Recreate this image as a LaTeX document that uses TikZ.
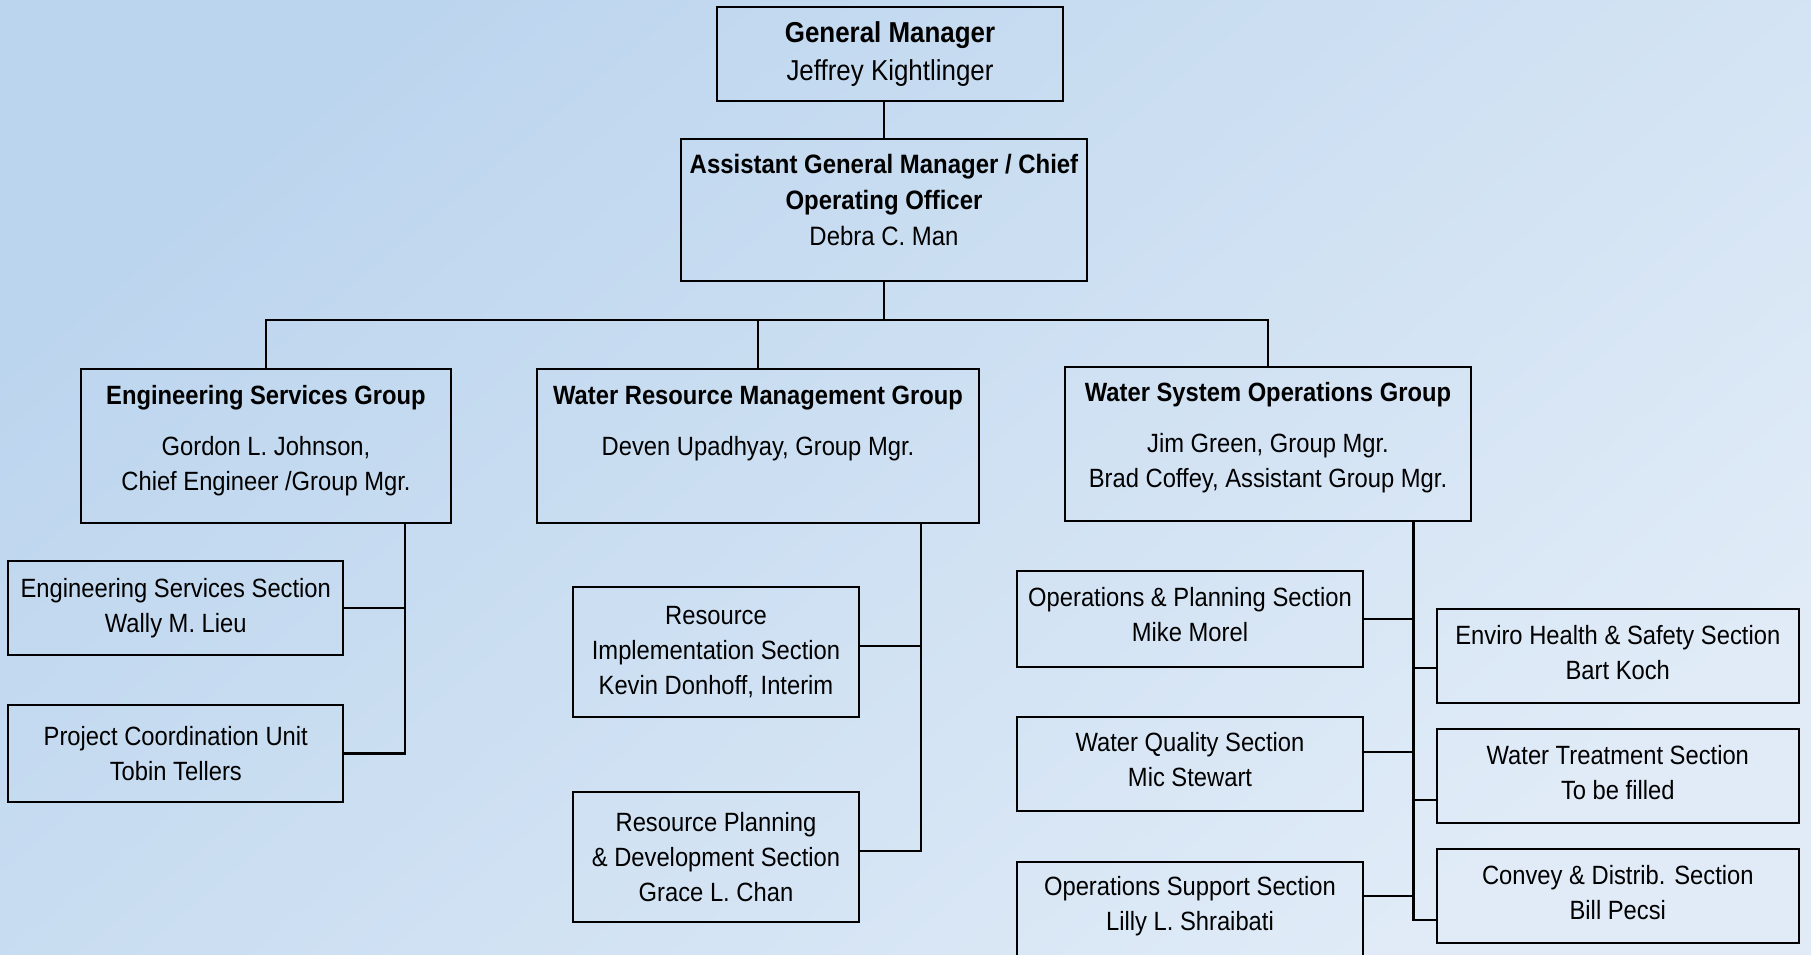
\documentclass[tikz,border=0pt]{standalone}
\usepackage{fontspec}
\setmainfont{Liberation Sans}[FakeStretch=0.9]
\usepackage{tikz}
\usetikzlibrary{shapes, positioning}
\definecolor{paleblue}{RGB}{188,213,238}
\definecolor{mistblue}{RGB}{224,235,247}
\newcommand{\liftby}[1]{\\[#1]\mbox{}}
\tikzstyle{box} = [draw, line width=1pt, rectangle, align=center, inner sep=2pt, font=\fontsize{13.2}{17.5}\selectfont]
\tikzstyle{chief} = [box, font=\fontsize{14.4}{18.9}\selectfont]
\tikzstyle{deputy} = [box, font=\fontsize{13.3}{18}\selectfont]
\tikzstyle{group} = [box, minimum height=77pt]
\tikzstyle{section} = [box, minimum height=47pt]
\tikzstyle{joint} = [coordinate]
\tikzstyle{link} = [line width=0.9pt]
\tikzstyle{trunk} = [line width=1.2pt]

\begin{document}
\begin{tikzpicture}[x=0.5pt, y=-0.5pt]
  \useasboundingbox (0,0) rectangle (1811,954);
  \clip (0,0) rectangle (1811,954);
  \shade [top color=paleblue, bottom color=mistblue, shading angle=40] (0,0) rectangle (1811,954);

  % top of the chart
  \node [chief, minimum width=173.2pt, minimum height=47pt] (gm) at (890,53.7)
    {\textbf{General Manager}\\ Jeffrey Kightlinger\liftby{-16.5pt}};
  \node [deputy, minimum width=203.2pt, minimum height=71.2pt] (agm) at (884,210)
    {\textbf{Assistant General Manager / Chief}\\ \textbf{Operating Officer}\\ Debra C. Man\liftby{-8pt}};
  \node [joint] (bus) at (884,320) {};

  % groups
  \node [group, minimum width=185.3pt] (esg) at (266,446.3)
    {\textbf{Engineering Services Group}\\[8pt] Gordon L. Johnson,\\ Chief Engineer /Group Mgr.\liftby{-8.7pt}};
  \node [group, minimum width=221.3pt] (wrmg) at (758,446.3)
    {\textbf{Water Resource Management Group}\\[8pt] Deven Upadhyay, Group Mgr.\liftby{0pt}\liftby{-9.5pt}};
  \node [group, minimum width=203.3pt] (wsog) at (1268,443.7)
    {\textbf{Water System Operations Group}\\[8pt] Jim Green, Group Mgr.\\ Brad Coffey, Assistant Group Mgr.\liftby{-8.7pt}};

  % engineering sections
  \node [section, minimum width=167.5pt] (ess) at (175.8,608.2)
    {Engineering Services Section\\ Wally M. Lieu};
  \node [section, minimum width=167.5pt, minimum height=48.5pt, below of=ess, node distance=72.65pt] (pcu)
    {Project Coordination Unit\\ Tobin Tellers};

  % water resource sections
  \node [section, minimum width=143.2pt, minimum height=65pt] (ris) at (716,652.3)
    {Resource\\ Implementation Section\\ Kevin Donhoff, Interim};
  \node [section, minimum width=143.2pt, minimum height=65pt, below of=ris, node distance=102.2pt] (rpds)
    {Resource Planning\\ \& Development Section\\ Grace L. Chan};

  % operations sections
  \node [section, minimum width=173.3pt, minimum height=48.3pt] (ops) at (1190,619)
    {Operations \& Planning Section\\ Mike Morel\liftby{-12.9pt}};
  \node [section, minimum width=173.3pt, minimum height=46.9pt, below of=ops, node distance=72.6pt] (wqs)
    {Water Quality Section\\ Mic Stewart\liftby{-12.9pt}};
  \node [section, minimum width=173.3pt, minimum height=48.5pt, below of=wqs, node distance=72.9pt] (oss)
    {Operations Support Section\\ Lilly L. Shraibati\liftby{-11.2pt}};
  \node [section, minimum width=181.2pt] (ehs) at (1617.8,656.3)
    {Enviro Health \& Safety Section\\ Bart Koch\liftby{-14pt}};
  \node [section, minimum width=181.2pt, minimum height=46.7pt, below of=ehs, node distance=59.85pt] (wts)
    {Water Treatment Section\\ To be filled\liftby{-14pt}};
  \node [section, minimum width=181.2pt, minimum height=46.7pt, below of=wts, node distance=60pt] (cds)
    {Convey \& Distrib. Section\\ Bill Pecsi\liftby{-14pt}};

  % connectors
  \draw [trunk] (agm.north) -- (agm.north |- gm.south);
  \draw [trunk] (agm.south) -- (bus);
  \draw [link] (esg.north) |- (bus);
  \draw [trunk] (bus) -| (wsog.north);
  \draw [link] (wrmg.north) -- (wrmg.north |- bus);

  \draw [trunk] (esg.south east) ++(-47.3,0) coordinate (esgtrunk) |- (pcu.east);
  \draw [link] (ess.east) -- (ess.east -| esgtrunk);

  \draw [trunk] (wrmg.south east) ++(-59.3,0) coordinate (wrmgtrunk) |- ([yshift=3pt]rpds.east);
  \draw [link] ([yshift=3pt]ris.east) -- ([yshift=3pt]ris.east -| wrmgtrunk);

  \draw [trunk] (wsog.south east) ++(-59,0) coordinate (wsogtrunk) |- ([yshift=-12pt]cds.west);
  \draw [link] (ops.east) -- (ops.east -| wsogtrunk);
  \draw [link] ([yshift=6pt]wqs.east) -- ([yshift=6pt]wqs.east -| wsogtrunk);
  \draw [link] ([yshift=7pt]oss.east) -- ([yshift=7pt]oss.east -| wsogtrunk);
  \draw [link] ([yshift=-5.7pt]ehs.west) -- ([yshift=-5.7pt]ehs.west -| wsogtrunk);
  \draw [link] ([yshift=-12pt]wts.west) -- ([yshift=-12pt]wts.west -| wsogtrunk);
\end{tikzpicture}
\end{document}
